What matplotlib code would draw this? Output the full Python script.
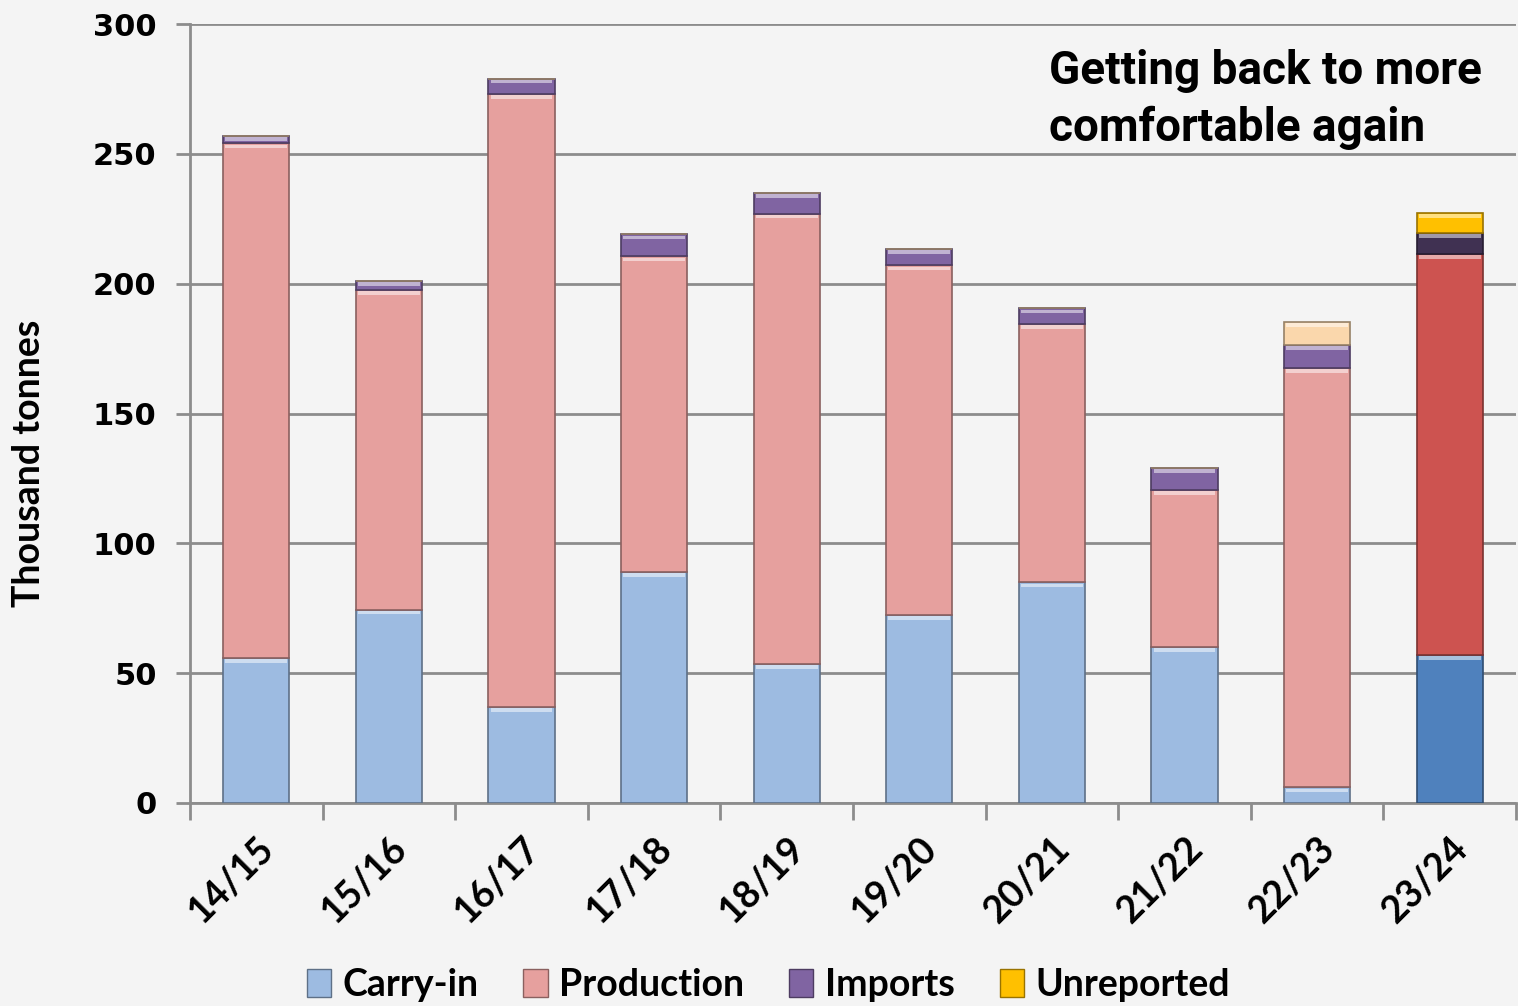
import matplotlib
matplotlib.use("Agg")
import matplotlib.pyplot as plt
import numpy as np
from matplotlib.colors import to_rgb
from matplotlib.patches import Patch

# Crop-year supply components (thousand tonnes)
seasons = ["14/15", "15/16", "16/17", "17/18", "18/19",
           "19/20", "20/21", "21/22", "22/23", "23/24"]
carry_in = [56, 74.5, 37, 89, 53.5, 72.5, 85, 60, 6, 57]
production = [198, 123, 236, 121.5, 173.5, 134.5, 99.5, 60.5, 161.5, 154.5]
imports = [3, 3.5, 6, 8.5, 8, 6.5, 6, 8.5, 9, 8]
unreported = [0, 0, 0, 0, 0, 0, 0, 0, 8.7, 7.7]

series_names = ["Carry-in", "Production", "Imports", "Unreported"]

# Past seasons use pale tones, the current season uses saturated ones
pale = ["#9dbbe1", "#e6a09e", "#8064a2", "#fad7ac"]
strong = ["#4f81bd", "#cd5350", "#403152", "#ffc000"]
legend_colors = ["#9dbbe1", "#e6a09e", "#8064a2", "#ffc000"]


def lighten(c, f):
    r = np.array(to_rgb(c))
    return tuple(r + (1 - r) * f)


def darken(c, f):
    return tuple(np.array(to_rgb(c)) * f)


fig = plt.figure(figsize=(15.18, 10.06), dpi=100)
fig.patch.set_facecolor("#f4f4f4")
ax = fig.add_axes([190 / 1518, 1 - 803 / 1006, 1326 / 1518, (803 - 24) / 1006])
ax.set_facecolor("#f4f4f4")

x = np.arange(len(seasons))
width = 0.5
bottom = np.zeros(len(seasons))
all_series = [carry_in, production, imports, unreported]
n = len(seasons)
for s, vals in enumerate(all_series):
    vals = np.array(vals, dtype=float)
    colors = [strong[s] if i == n - 1 else pale[s] for i in range(n)]
    edges = [darken(c, 0.6) for c in colors]
    ax.bar(x, vals, width, bottom=bottom, color=colors, edgecolor=edges,
           linewidth=1.2, zorder=3)
    # bevel highlight along the top of each segment
    mask = vals > 0
    hl = np.minimum(vals, 1.4)
    hl_colors = [lighten(c, 0.5) for c in colors]
    ax.bar(x[mask], hl[mask], width * 0.93, bottom=(bottom + vals - hl - 0.5)[mask],
           color=[hl_colors[i] for i in range(n) if mask[i]], linewidth=0, zorder=4)
    bottom = bottom + vals

ax.set_xlim(-0.5, n - 0.5)
ax.set_ylim(0, 300)
ax.set_yticks(range(0, 301, 50))
ax.yaxis.grid(True, color="#8c8c8c", linewidth=2, zorder=0)
ax.set_axisbelow(True)

for side in ["top", "right"]:
    ax.spines[side].set_visible(False)
ax.spines["left"].set_color("#8c8c8c")
ax.spines["left"].set_linewidth(2)
ax.spines["bottom"].set_color("#8c8c8c")
ax.spines["bottom"].set_linewidth(2)

ax.set_xticks(np.arange(n + 1) - 0.5, minor=False)
ax.set_xticklabels([])
ax.set_xticks(x, minor=True)
ax.set_xticklabels(seasons, minor=True, rotation=45, ha="right",
                   rotation_mode="anchor", fontsize=27, fontweight="bold",
                   family="Lato")
ax.tick_params(axis="x", which="major", length=12, width=2, color="#8c8c8c",
               direction="out")
ax.tick_params(axis="x", which="minor", length=0, pad=20)
ax.tick_params(axis="y", length=10, width=2, color="#8c8c8c", pad=14)
for lbl in ax.get_yticklabels():
    lbl.set_fontsize(22)
    lbl.set_fontweight("heavy")
    lbl.set_family("DejaVu Sans")

ax.set_ylabel("Thousand tonnes", fontsize=27, fontweight="bold", family="Lato")
ax.yaxis.set_label_coords(-0.1086, 0.4365)

ax.text(0.648, 0.968, "Getting back to more\ncomfortable again",
        transform=ax.transAxes, ha="left", va="top", fontsize=33,
        fontweight="bold", family="Roboto", linespacing=1.35, zorder=5)

handles = [Patch(facecolor=c, edgecolor=darken(c, 0.6), linewidth=1)
           for c in legend_colors]
fig.legend(handles, series_names, loc="center", bbox_to_anchor=(0.506, 1 - 985 / 1006),
           ncol=4, frameon=False, prop={"family": "Lato", "weight": "bold", "size": 27},
           handlelength=0.65, handleheight=0.75, handletextpad=0.3, columnspacing=1.2)

fig.savefig("out.png", dpi=100, facecolor=fig.get_facecolor())
